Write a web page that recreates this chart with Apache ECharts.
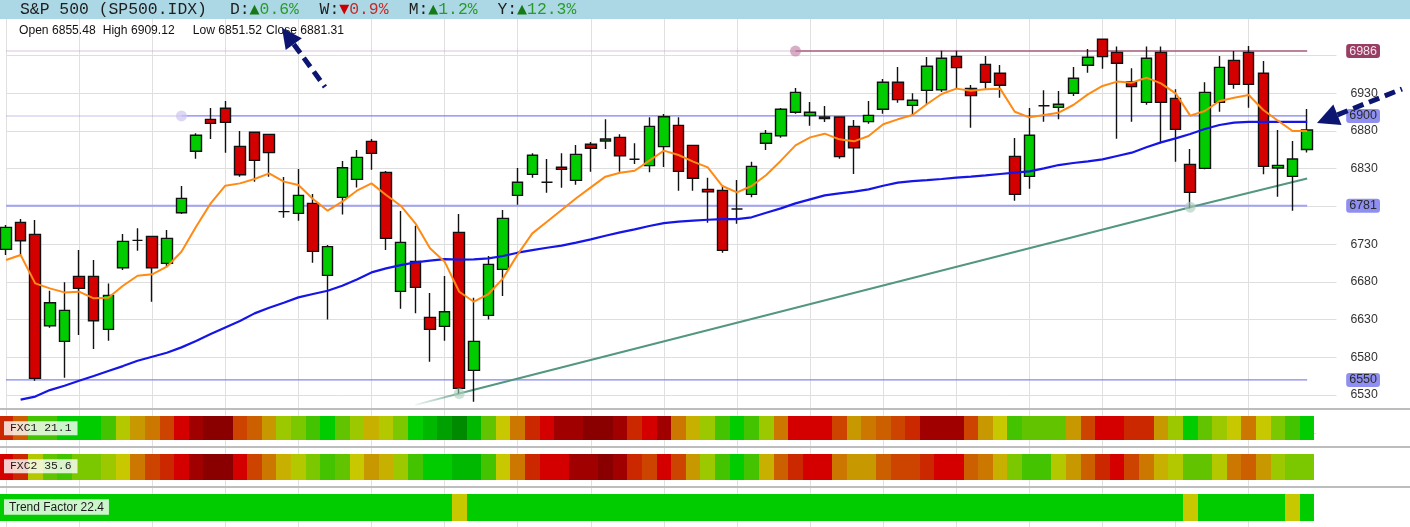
<!DOCTYPE html>
<html><head><meta charset="utf-8">
<script src="https://cdn.jsdelivr.net/npm/echarts@6/dist/echarts.min.js"></script>
<style>html,body{margin:0;padding:0;background:#fff}#c{width:1410px;height:527px}</style>
</head><body><div id="c"></div>
<script>
// ---------------- DATA ----------------
const symbolName = 'S&P 500 (SP500.IDX)';
const chgKeys = ['D', 'W', 'M', 'Y'];
const chgVals = [0.6, -0.9, 1.2, 12.3];

const openP = [6723.1,6758.9,6743.0,6621.9,6601.1,6687.3,6687.3,6617.0,6698.8,6735.0,
6740.4,6704.6,6771.7,6853.1,6895.5,6910.1,6859.7,6878.3,6875.6,6773.1,
6770.9,6784.1,6688.6,6792.1,6815.9,6866.3,6825.2,6667.4,6707.2,6633.0,
6621.0,6745.7,6562.7,6635.6,6696.6,6794.7,6822.6,6812.0,6831.9,6814.6,
6862.4,6866.8,6871.6,6842.5,6834.1,6859.3,6887.5,6861.0,6802.7,6801.3,
6776.6,6796.0,6863.7,6873.8,6904.8,6900.4,6898.6,6898.6,6886.2,6892.4,
6908.8,6944.6,6914.0,6933.9,6934.8,6979.0,6936.6,6968.4,6956.5,6846.4,
6819.9,6913.6,6911.4,6930.0,6967.1,7001.6,6984.3,6945.5,6918.0,6984.3,
6923.3,6835.8,6830.5,6918.0,6973.7,6984.3,6956.5,6831.0,6819.9,6855.48];
const closeP = [6752.3,6734.6,6552.1,6652.4,6642.2,6671.4,6628.5,6662.1,6733.7,6735.0,
6698.8,6737.7,6790.7,6874.3,6890.2,6891.5,6822.1,6841.1,6851.3,6773.1,
6794.7,6720.5,6726.7,6831.4,6845.1,6850.4,6737.7,6732.4,6672.7,6617.0,
6640.5,6538.8,6601.1,6703.2,6764.2,6812.0,6847.8,6812.0,6829.2,6849.1,
6857.1,6869.4,6847.3,6842.5,6886.2,6899.0,6826.5,6817.3,6799.6,6721.8,
6776.6,6833.2,6876.9,6908.8,6931.3,6904.8,6896.4,6846.0,6857.9,6900.8,
6944.6,6921.6,6920.7,6965.8,6976.4,6964.0,6926.9,6944.6,6940.6,6796.0,
6874.3,6913.6,6915.4,6949.9,6977.7,6978.6,6969.8,6938.8,6976.4,6918.0,
6882.2,6798.7,6931.3,6964.4,6941.9,6941.9,6833.2,6834.5,6842.9,6881.31];
const highP = [6755.4,6763.3,6762.0,6668.3,6679.4,6722.2,6709.0,6678.0,6743.5,6751.0,
6740.4,6748.8,6807.1,6877.0,6910.5,6919.8,6880.0,6878.3,6875.6,6819.0,
6829.6,6796.5,6728.9,6840.3,6854.8,6869.4,6827.0,6774.0,6754.5,6665.2,
6687.8,6770.0,6659.0,6714.3,6775.3,6831.0,6850.4,6842.9,6850.4,6861.5,
6865.4,6895.5,6875.6,6863.7,6898.2,6902.6,6898.2,6861.0,6818.1,6808.0,
6815.0,6839.4,6881.4,6910.5,6937.0,6918.5,6913.2,6898.6,6894.6,6919.8,
6949.0,6964.9,6930.0,6978.1,6986.5,6986.5,6941.0,6979.5,6967.5,6870.7,
6910.5,6933.9,6933.1,6964.9,6988.8,7001.6,6991.9,6963.1,6991.9,6991.9,
6935.3,6856.2,6944.6,6979.5,6986.1,6992.7,6972.8,6881.4,6866.8,6909.12];
const lowP = [6715.6,6715.6,6549.0,6619.3,6553.0,6609.5,6591.0,6602.0,6695.7,6721.4,
6653.7,6701.0,6770.0,6843.3,6869.4,6851.3,6819.5,6812.9,6819.5,6765.1,
6761.1,6705.5,6630.3,6769.5,6805.3,6828.8,6722.2,6644.4,6638.3,6574.2,
6602.0,6532.2,6521.1,6630.3,6661.2,6782.3,6818.2,6798.3,6804.9,6808.9,
6826.1,6856.2,6826.1,6836.3,6825.2,6832.3,6800.9,6800.9,6758.5,6718.7,
6757.1,6792.1,6854.8,6871.2,6903.0,6887.1,6892.0,6843.3,6823.0,6889.8,
6903.0,6917.6,6901.2,6915.8,6931.7,6936.2,6884.4,6936.2,6924.2,6787.6,
6803.6,6892.4,6895.5,6926.4,6957.4,6962.7,6869.9,6892.4,6914.9,6863.7,
6839.4,6777.5,6829.2,6905.7,6936.2,6911.0,6822.6,6793.0,6774.4,6851.52];

const maFast = [6709.0,6715.6,6678.0,6671.4,6666.1,6667.0,6658.2,6659.0,6674.9,6688.2,
6690.0,6700.1,6720.0,6753.2,6784.1,6807.5,6810.6,6816.4,6823.9,6812.9,
6808.4,6789.9,6774.4,6786.3,6800.9,6810.6,6795.2,6781.0,6757.6,6724.5,
6706.8,6667.0,6653.7,6663.9,6684.7,6716.5,6744.3,6759.8,6775.3,6790.8,
6805.3,6819.5,6824.8,6827.4,6840.7,6854.0,6848.2,6839.4,6831.8,6807.1,
6798.7,6807.1,6821.7,6840.7,6861.0,6871.6,6876.5,6869.0,6866.3,6873.4,
6888.9,6895.5,6901.2,6915.8,6929.1,6936.2,6933.5,6935.3,6936.2,6905.5,
6898.1,6901.2,6904.3,6914.5,6928.6,6939.7,6945.5,6944.1,6950.7,6943.2,
6930.0,6900.4,6906.5,6919.8,6924.2,6927.8,6907.9,6893.7,6880.0,6880.0];
const maSlow = [null,6524.0,6528.0,6536.6,6542.3,6549.0,6555.2,6561.8,6568.4,6575.5,
6580.8,6586.1,6593.2,6601.6,6610.9,6619.7,6628.1,6638.3,6645.8,6652.4,
6659.5,6663.9,6668.3,6675.0,6683.3,6692.6,6697.9,6702.3,6705.9,6708.1,
6710.3,6709.4,6709.9,6711.2,6714.3,6718.7,6722.2,6725.3,6728.0,6732.0,
6736.4,6741.2,6745.7,6749.6,6754.1,6758.0,6759.8,6761.1,6762.4,6763.3,
6763.3,6765.6,6771.7,6777.5,6784.1,6789.4,6794.7,6797.4,6799.6,6802.7,
6807.5,6811.5,6813.7,6815.0,6816.4,6818.1,6819.5,6821.2,6823.0,6824.8,
6826.5,6830.5,6834.9,6837.6,6839.8,6842.5,6846.9,6851.3,6858.4,6865.0,
6870.3,6876.0,6882.7,6888.0,6891.1,6892.0,6892.0,6892.0,6892.0,6892.0];

const levelValues = [6986, 6900, 6781, 6550];
const levelStart = [54, 12, 0, 0];
const trendIdx = [28, 31, 81, 89];
const trendVal = [6517, 6532, 6779, 6817];
const pivotIdx = [12, 54, 31, 81];
const pivotVal = [6900, 6986, 6532, 6779];

const yMin = 6480, yMax = 7030, yStep = 50, yLabelLo = 6530, yLabelHi = 6930;

const stripNames = ['FXC1', 'FXC2', 'Trend Factor'];
const stripVals = [21.1, 35.6, 22.4];
// indicator levels: 0 = strongest bullish (dark green) ... 18 = strongest bearish (dark red)
const fxc1 = [15,13,4,4,3,3,3,4,8,11, 12,14,16,17,18,18,14,13,11,7, 6,4,3,5,7,10,8,6,3,2,
1,0,2,5,9,12,15,16,17,17, 18,18,17,15,16,17,12,10,7,4, 3,4,7,12,16,16,16,14,11,12,
13,14,15,17,17,17,14,11,9,4, 5,5,5,11,14,16,16,15,15,11, 7,3,5,7,9,12,9,6,4,3];
const fxc2 = [16,15,8,5,4,6,6,7,9,12, 14,15,16,17,18,18,16,14,12,10, 8,6,4,5,9,11,10,7,4,3,
3,2,2,4,9,12,15,16,16,17, 17,18,17,15,14,16,14,11,7,4, 3,4,10,13,15,16,16,12,11,11,
13,14,14,15,16,16,13,12,10,6, 4,4,8,11,13,15,16,14,12,10, 8,5,5,8,12,13,11,7,6,6];
const trendFactor = [3,3,3,3,3,3,3,3,3,3, 3,3,3,3,3,3,3,3,3,3, 3,3,3,3,3,3,3,3,3,3,
3,9,3,3,3,3,3,3,3,3, 3,3,3,3,3,3,3,3,3,3, 3,3,3,3,3,3,3,3,3,3,
3,3,3,3,3,3,3,3,3,3, 3,3,3,3,3,3,3,3,3,3, 3,9,3,3,3,3,3,3,9,3];

// ---------------- STYLE ----------------
const heatPalette = ['#008a00','#00a000','#00b800','#00cc00','#44c400','#62c400','#7cc800','#9cc800',
 '#b4c800','#c8c800','#c8b000','#c89800','#cc7800','#cc6000','#cc4400','#cc2800','#d40000','#a00000','#8a0000'];
const levelColor = ['#a3587a', '#8080f8', '#a2a2f6', '#8585ee'];
const levelWidth = [1.5, 1.2, 2, 1.2];
const levelFaint = ['rgba(185,140,185,0.35)', 'rgba(175,160,225,0.45)', null, null];
const badgeBg = ['#9a3d64', '#8f8ff2', '#8f8ff2', '#8f8ff2'];
const badgeFg = ['#f2e4ec', '#2a2a2a', '#2a2a2a', '#2a2a2a'];
const pivotColor = ['rgba(205,195,240,0.85)', 'rgba(190,120,160,0.75)', 'rgba(165,205,185,0.7)', 'rgba(175,205,190,0.8)'];

const nSlots = 92;
const slotW = 14.62;
const L = 6, W = (nSlots - 1) * slotW;
const cats = Array.from({length: nSlots}, (_, i) => String(i));
const last = openP.length - 1;

function xAx(gi, split) {
  return {type: 'category', gridIndex: gi, data: cats, boundaryGap: false,
    axisLine: {show: false}, axisTick: {show: false}, axisLabel: {show: false},
    splitLine: {show: !!split, interval: (idx) => idx % 5 === 0 && idx <= last,
      lineStyle: {color: '#e0e0e0', width: 1}}};
}

const series = [];
// level lines
levelValues.forEach((v, k) => {
  if (levelStart[k] > 0 && levelFaint[k]) {
    series.push({type: 'line', xAxisIndex: 0, yAxisIndex: 0, symbol: 'none', z: 2, silent: true,
      data: [[0, v], [levelStart[k], v]], lineStyle: {color: levelFaint[k], width: 1.5}});
  }
  series.push({type: 'line', xAxisIndex: 0, yAxisIndex: 0, symbol: 'none', z: 2, silent: true,
    data: [[levelStart[k], v], [last, v]], lineStyle: {color: levelColor[k], width: levelWidth[k]},
    endLabel: {show: true, formatter: () => String(v), distance: 39,
      backgroundColor: badgeBg[k], color: badgeFg[k], padding: [1, 3, 0, 3], borderRadius: 3,
      fontSize: 12.5, fontFamily: 'Liberation Sans', lineHeight: 13}});
});
// trend line
series.push({type: 'line', xAxisIndex: 0, yAxisIndex: 0, symbol: 'none', z: 3, silent: true,
  data: trendIdx.map((x, k) => [x, trendVal[k]]),
  lineStyle: {width: 2, color: {type: 'linear', x: 0, y: 0, x2: 1, y2: 0, colorStops: [
    {offset: 0, color: 'rgba(80,150,125,0.05)'}, {offset: 0.07, color: '#52977e'}, {offset: 1, color: '#52977e'}]}}});
// candles
series.push({type: 'candlestick', xAxisIndex: 0, yAxisIndex: 0, z: 4, clip: false, barWidth: 11,
  data: openP.map((o, i) => [o, closeP[i], lowP[i], highP[i]]),
  itemStyle: {color: '#00cc00', color0: '#d40000', borderColor: '#111', borderColor0: '#111',
    borderColorDoji: '#111', borderWidth: 1.4}});
// moving averages
series.push({type: 'line', xAxisIndex: 0, yAxisIndex: 0, symbol: 'none', z: 5, data: maSlow,
  lineStyle: {color: '#1515e8', width: 2.2}});
series.push({type: 'line', xAxisIndex: 0, yAxisIndex: 0, symbol: 'none', z: 6, data: maFast,
  lineStyle: {color: '#ff8a14', width: 2}});
// pivots
series.push({type: 'scatter', xAxisIndex: 0, yAxisIndex: 0, z: 7, symbolSize: 11, silent: true,
  data: pivotIdx.map((x, k) => ({value: [x, pivotVal[k]], itemStyle: {color: pivotColor[k]}}))});
// strips (one cell per bar, pixel-snapped so neighbouring cells meet without seams)
[fxc1, fxc2, trendFactor].forEach((arr, k) => {
  series.push({type: 'custom', xAxisIndex: 2 + k, yAxisIndex: 2 + k, clip: false, z: 3, silent: true,
    data: arr.map((lv, i) => [i, lv]),
    renderItem: (params, api) => {
      const i = api.value(0);
      const top = api.coord([i, 1]), bot = api.coord([i, 0]);
      const w = api.size([1, 0])[0];
      const x0 = Math.round(top[0] - w / 2), x1 = Math.round(top[0] + w / 2);
      const y0 = Math.round(top[1]), y1 = Math.round(bot[1]);
      return {type: 'rect', shape: {x: x0, y: y0, width: x1 - x0, height: y1 - y0},
        style: {fill: heatPalette[api.value(1)]}};
    }});
});

// ---------------- GRAPHICS ----------------
const navy = '#0c1670';
function arrow(tip, tail, headLen, headHalf) {
  const dx = tip[0] - tail[0], dy = tip[1] - tail[1];
  const len = Math.hypot(dx, dy), ux = dx / len, uy = dy / len;
  const bx = tip[0] - ux * headLen, by = tip[1] - uy * headLen;
  const nx = -uy, ny = ux;
  return [
    {type: 'polyline', z: 120, shape: {points: [[bx, by], tail]}, style: {stroke: navy, lineWidth: 5, lineDash: [11, 6], fill: null}},
    {type: 'polygon', z: 121, shape: {points: [tip, [bx + nx * headHalf, by + ny * headHalf], [bx - nx * headHalf, by - ny * headHalf]]}, style: {fill: navy}}
  ];
}
const mono = '"Liberation Mono", "DejaVu Sans Mono", monospace';
const sans = '"Liberation Sans", Arial, sans-serif';
const gfx = [
  {type: 'rect', z: 100, shape: {x: 0, y: 0, width: 1410, height: 19}, style: {fill: '#acd8e5'}},
  {type: 'text', z: 101, x: 20, y: 9.5, style: {text: symbolName, font: '16.4px ' + mono, fill: '#1e1e1e', verticalAlign: 'middle'}},
  {type: 'rect', z: 1, shape: {x: 1316, y: 410, width: 94, height: 36}, style: {fill: '#fff'}}
];
const chgX = [230, 319.6, 408.7, 497.5];
chgKeys.forEach((k, j) => {
  const up = chgVals[j] >= 0;
  const cw = 9.85;
  gfx.push({type: 'text', z: 101, x: chgX[j], y: 9.5, style: {text: k + ':', font: '16.4px ' + mono, fill: '#1e1e1e', verticalAlign: 'middle'}});
  gfx.push({type: 'text', z: 101, x: chgX[j] + 2 * cw + 4.9, y: 9.5, style: {text: up ? '▲' : '▼', font: '13px "DejaVu Sans"', fill: up ? '#167a16' : '#cc0000', align: 'center', verticalAlign: 'middle'}});
  gfx.push({type: 'text', z: 101, x: chgX[j] + 3 * cw, y: 9.5, style: {text: Math.abs(chgVals[j]).toFixed(1) + '%', font: '16.4px ' + mono, fill: up ? '#2a9a2a' : '#c42a2a', verticalAlign: 'middle'}});
});
const ohlcLabels = ['Open', 'High', 'Low', 'Close'];
const ohlcNums = [openP[last], highP[last], lowP[last], closeP[last]];
const ohlcX = [19, 102.7, 192.7, 266];
ohlcLabels.forEach((t, j) => {
  gfx.push({type: 'text', z: 101, x: ohlcX[j], y: 30.5, style: {text: t + ' ' + ohlcNums[j].toFixed(2), font: '12.1px ' + sans, fill: '#111', verticalAlign: 'middle'}});
});
[408, 446, 486].forEach(y => gfx.push({type: 'rect', z: 90, shape: {x: 0, y: y, width: 1410, height: 2}, style: {fill: '#bdbdbd'}}));
const stripBoxY = [421.3, 459.3, 499.3];
stripNames.forEach((nm, k) => {
  const isMono = k < 2;
  gfx.push({type: 'text', z: 95, x: 4, y: stripBoxY[k], style: {
    text: nm + ' ' + stripVals[k].toFixed(1), font: (isMono ? '11.4px ' + mono : '12px ' + sans),
    fill: '#1a1a1a', backgroundColor: 'rgba(255,255,255,0.8)', padding: isMono ? [1, 6, 1, 6] : [2, 5, 1, 5],
    lineHeight: isMono ? 12 : 12.5, verticalAlign: 'top'}});
});
gfx.push(...arrow([282, 28], [325, 87], 20, 10));
gfx.push(...arrow([1317, 123], [1402, 89], 22, 11));

const option = {
  animation: false,
  backgroundColor: '#fff',
  grid: [
    {left: L, width: W, top: 17.87, height: 414.9},
    {left: L, width: W, top: 408, height: 119},
    {left: L, width: W, top: 416, height: 24},
    {left: L, width: W, top: 454, height: 26},
    {left: L, width: W, top: 494, height: 27}
  ],
  xAxis: [xAx(0, true), xAx(1, true), xAx(2, false), xAx(3, false), xAx(4, false)],
  yAxis: [
    {type: 'value', gridIndex: 0, position: 'right', min: yMin, max: yMax, interval: yStep, scale: true,
      axisLine: {show: false}, axisTick: {show: false},
      axisLabel: {margin: 14, color: '#333', fontSize: 12.3, fontFamily: 'Liberation Sans',
        formatter: (v) => { const r = Math.round(v); return (r >= yLabelLo && r <= yLabelHi) ? String(r) : ''; }},
      splitLine: {lineStyle: {color: '#dedede', width: 1}}},
    {type: 'value', gridIndex: 1, min: 0, max: 1, show: false},
    {type: 'value', gridIndex: 2, min: 0, max: 1, show: false},
    {type: 'value', gridIndex: 3, min: 0, max: 1, show: false},
    {type: 'value', gridIndex: 4, min: 0, max: 1, show: false}
  ],
  series: series,
  graphic: gfx
};
const chart = echarts.init(document.getElementById('c'), null, {renderer: 'canvas'});
chart.setOption(option);
</script></body></html>
